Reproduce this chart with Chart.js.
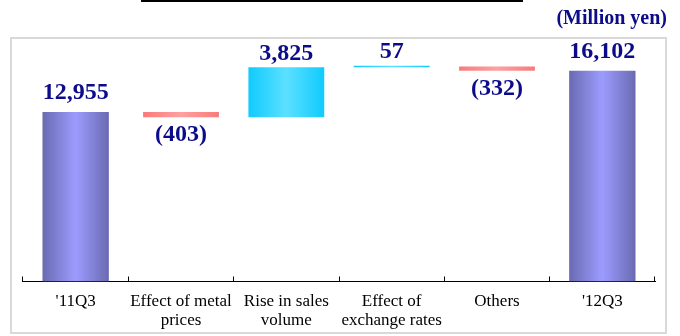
<!DOCTYPE html>
<html>
<head>
<meta charset="utf-8">
<script src="https://cdn.jsdelivr.net/npm/chart.js@4/dist/chart.umd.min.js"></script>
<style>
html,body{margin:0;padding:0;background:#fff;}
#wrap{position:relative;width:680px;height:336px;overflow:hidden;}
#frame{position:absolute;left:10px;top:37px;width:657px;height:297px;border:2px solid #d9d9d9;box-sizing:border-box;}
#titlebar{position:absolute;left:141px;top:0;width:382px;height:2px;background:#000;}
canvas{position:absolute;left:0;top:0;}
</style>
</head>
<body>
<div id="wrap">
  <div id="titlebar"></div>
  <div id="frame"></div>
  <canvas id="c" width="680" height="336"></canvas>
</div>
<script>
// ---- data ----
const categories = [["'11Q3"], ["Effect of metal", "prices"], ["Rise in sales", "volume"], ["Effect of", "exchange rates"], ["Others"], ["'12Q3"]];
const startTotal = 12955;
const changes = [-403, 3825, 57, -332];
const endTotal = 16102;
const unitLabel = "(Million yen)";

// ---- build datasets from the data ----
const totalData = [startTotal, null, null, null, null, endTotal];
const changeData = [null];
let running = startTotal;
for (const c of changes) {
  changeData.push([running, running + c]);
  running += c;
}
changeData.push(null);
const changeRaw = [null, ...changes, null];

const LABEL_COLOR = '#0c0c8a';

function gradFor(ctx, pct, edge, mid) {
  const chart = ctx.chart;
  const xs = chart.scales.x;
  if (!xs || !chart.chartArea) return edge;
  const cx = xs.getPixelForValue(ctx.dataIndex);
  const w = (xs.width / categories.length) * pct;
  const g = chart.ctx.createLinearGradient(cx - w / 2, 0, cx + w / 2, 0);
  g.addColorStop(0, edge);
  g.addColorStop(0.5, mid);
  g.addColorStop(1, edge);
  return g;
}

const labelPlugin = {
  id: 'wfLabels',
  afterDatasetsDraw(chart) {
    const ctx = chart.ctx;
    ctx.save();
    ctx.font = 'bold 24px "Liberation Serif", "Times New Roman", serif';
    ctx.fillStyle = LABEL_COLOR;
    ctx.textAlign = 'center';
    ctx.textBaseline = 'alphabetic';
    // totals
    chart.getDatasetMeta(0).data.forEach((el, i) => {
      const v = totalData[i];
      if (v == null) return;
      const top = Math.min(el.y, el.base);
      ctx.fillText(v.toLocaleString('en-US'), el.x, top - 13);
    });
    // changes
    chart.getDatasetMeta(1).data.forEach((el, i) => {
      const v = changeRaw[i];
      if (v == null) return;
      const top = Math.min(el.y, el.base);
      const bottom = Math.max(el.y, el.base);
      if (v >= 0) {
        ctx.fillText(v.toLocaleString('en-US'), el.x, top - 7.5);
      } else {
        ctx.fillText('(' + Math.abs(v).toLocaleString('en-US') + ')', el.x, bottom + 24);
      }
    });
    // unit label
    ctx.font = 'bold 20px "Liberation Serif", "Times New Roman", serif';
    ctx.textAlign = 'right';
    ctx.fillText(unitLabel, 667, 24);
    ctx.restore();
  }
};

new Chart(document.getElementById('c'), {
  type: 'bar',
  data: {
    labels: categories,
    datasets: [
      {
        label: 'Total',
        data: totalData,
        grouped: false,
        barPercentage: 0.63,
        categoryPercentage: 1,
        borderWidth: 0,
        backgroundColor: (ctx) => gradFor(ctx, 0.63, '#6a6ab2', '#9c9cff')
      },
      {
        label: 'Change',
        data: changeData,
        grouped: false,
        barPercentage: 0.72,
        categoryPercentage: 1,
        borderWidth: 0,
        minBarLength: 1.5,
        backgroundColor: (ctx) => {
          const v = changeRaw[ctx.dataIndex];
          if (v == null) return 'rgba(0,0,0,0)';
          return v >= 0 ? gradFor(ctx, 0.72, '#10cbfd', '#5ce0ff')
                        : gradFor(ctx, 0.72, '#f87a7a', '#ffa0a0');
        }
      }
    ]
  },
  options: {
    responsive: false,
    animation: false,
    layout: { padding: { left: 23, right: 25, top: 46, bottom: 0 } },
    plugins: { legend: { display: false }, tooltip: { enabled: false }, title: { display: false } },
    scales: {
      y: { display: false, min: 0, max: 18000 },
      x: {
        offset: true,
        grid: { display: true, offset: true, drawOnChartArea: false, drawTicks: true, tickLength: -5, color: '#000', tickColor: '#000', lineWidth: 1 },
        border: { display: true, color: '#000', width: 1 },
        ticks: {
          color: '#000',
          padding: 16,
          maxRotation: 0,
          autoSkip: false,
          font: { family: '"Liberation Serif", "Times New Roman", serif', size: 17, lineHeight: 1.09 }
        },
        afterFit: (s) => { s.height = 54.5; }
      }
    }
  },
  plugins: [labelPlugin]
});
</script>
</body>
</html>
